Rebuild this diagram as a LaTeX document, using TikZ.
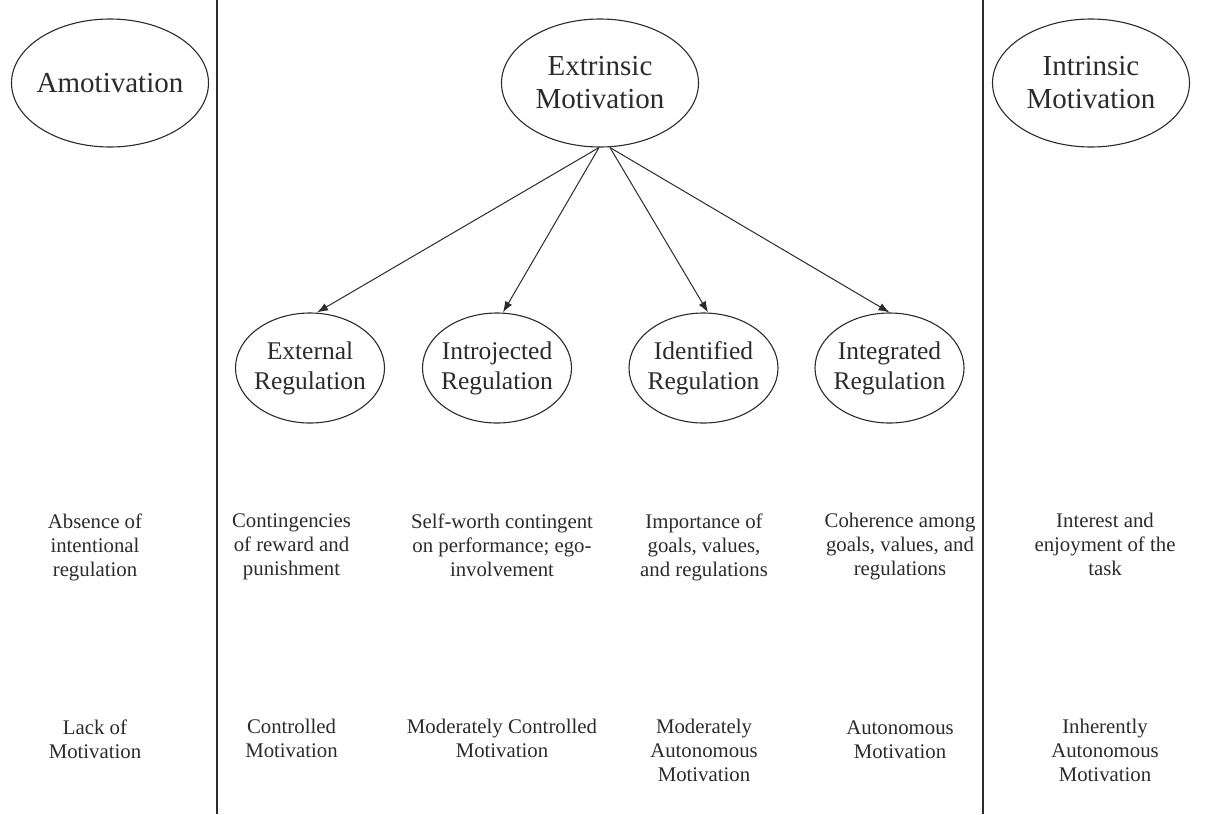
\documentclass[tikz,border=0pt]{standalone}
\usepackage{fontspec}
\setmainfont{Liberation Serif}
\usetikzlibrary{shapes, arrows.meta, positioning}
\definecolor{ink}{HTML}{2B2B2B}
\tikzstyle{bigoval}=[draw=ink,ellipse,line width=0.55pt,minimum width=98.5pt,minimum height=64pt,inner xsep=-12pt,inner ysep=-6pt,align=center,text=ink,font=\fontsize{14.5}{16.5}\selectfont]
\tikzstyle{regoval}=[draw=ink,ellipse,line width=0.55pt,minimum width=74.5pt,minimum height=55pt,inner xsep=-12pt,inner ysep=-6pt,align=center,text=ink,font=\fontsize{12.75}{15}\selectfont]
\tikzstyle{note}=[align=center,anchor=north,inner sep=0pt,text=ink,font=\fontsize{10.4}{12}\selectfont]
\tikzstyle{divider}=[draw=ink,line width=1.1pt]

\begin{document}
\begin{tikzpicture}[x=0.5pt,y=-0.5pt,>={Latex[length=5.5pt,width=4pt]}]
    \useasboundingbox (0,0) rectangle (1214,814);
    % top row
    \node[bigoval] (amot) at (110,83) {Amotivation};
    \node[bigoval, right of=amot, node distance=245pt] (extr) {Extrinsic\\Motivation};
    \node[bigoval, right of=extr, node distance=245.5pt] (intr) {Intrinsic\\Motivation};
    % regulation types
    \node[regoval] (extreg) at (310,368) {External\\Regulation};
    \node[regoval, right of=extreg, node distance=93.5pt] (introreg) {Introjected\\Regulation};
    \node[regoval, right of=introreg, node distance=103.25pt] (identreg) {Identified\\Regulation};
    \node[regoval, right of=identreg, node distance=93pt] (integreg) {Integrated\\Regulation};
    \draw[->, ink, line width=0.5pt] ([xshift=-0.5pt]extr.south) -- ([xshift=3.5pt]extreg.north);
    \draw[->, ink, line width=0.5pt] ([xshift=-0.5pt]extr.south) -- ([xshift=3pt]introreg.north);
    \draw[->, ink, line width=0.5pt] ([xshift=5pt]extr.south) -- ([xshift=2.25pt]identreg.north);
    \draw[->, ink, line width=0.5pt] ([xshift=5pt]extr.south) -- (integreg.north);
    % processes
    \node[note] (proc1) at (95,513) {Absence of\\intentional\\regulation};
    \node[note] (proc2) at (291.5,513) {Contingencies\\of reward and\\punishment};
    \node[note] (proc3) at (502,513) {Self-worth contingent\\on performance; ego-\\involvement};
    \node[note] (proc4) at (704,513) {Importance of\\goals, values,\\and regulations};
    \node[note] (proc5) at (900,513) {Coherence among\\goals, values, and\\regulations};
    \node[note] (proc6) at (1105,513) {Interest and\\enjoyment of the\\task};
    % motivation quality
    \node[note] (qual1) at (95,719) {Lack of\\Motivation};
    \node[note] (qual2) at (291.5,719) {Controlled\\Motivation};
    \node[note] (qual3) at (502,719) {Moderately Controlled\\Motivation};
    \node[note] (qual4) at (704,719) {Moderately\\Autonomous\\Motivation};
    \node[note] (qual5) at (900,720) {Autonomous\\Motivation};
    \node[note] (qual6) at (1105,719) {Inherently\\Autonomous\\Motivation};
    % dividers
    \coordinate (divAtop) at (217,0);
    \coordinate (divAbot) at (217,814);
    \coordinate (divBtop) at (983,0);
    \coordinate (divBbot) at (983,814);
    \draw[divider] (divAtop) -- (divAbot);
    \draw[divider] (divBtop) -- (divBbot);
\end{tikzpicture}
\end{document}
